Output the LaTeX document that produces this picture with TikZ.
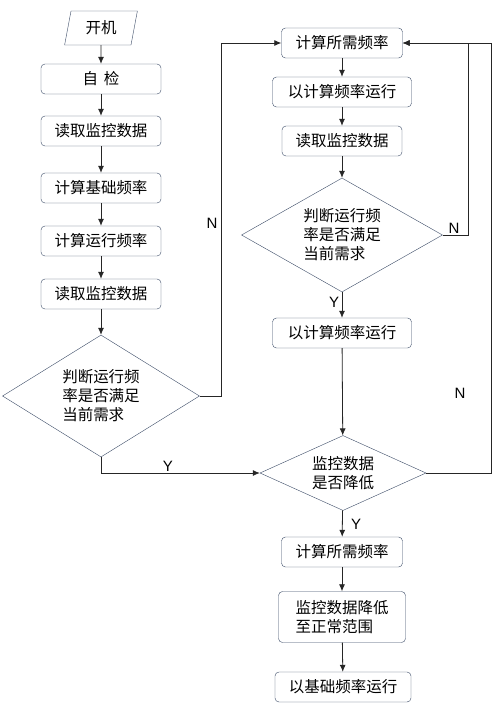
\documentclass[tikz,border=0pt]{standalone}
\usepackage{fontspec}
\setmainfont{Noto Sans CJK SC}
\newfontfamily\latinfont{Liberation Sans}
\usepackage{tikz}
\usetikzlibrary{shapes.geometric, arrows.meta}
\definecolor{boxline}{HTML}{3B4A66}
\tikzset{
  stepbox/.style={draw=boxline, fill=white, rounded corners=4pt, minimum height=30pt, inner sep=0pt, font=\fontsize{15.5}{19}\selectfont},
  decide/.style={draw=boxline, fill=white, shape=diamond, aspect=1.6, inner sep=0pt, align=left, font=\fontsize{15.5}{19}\selectfont},
  startbox/.style={draw=boxline, fill=white, trapezium, trapezium left angle=77, trapezium right angle=103, trapezium stretches=true, minimum width=73pt, minimum height=34pt, inner sep=0pt, font=\fontsize{15.5}{19}\selectfont},
  arr/.style={draw=black!85, thick, -{Latex[length=7pt,width=6pt]}},
  yn/.style={font=\latinfont\fontsize{15}{17}\selectfont}
}
\begin{document}
\begin{tikzpicture}[x=1pt, y=-1pt]
  \useasboundingbox[fill=white] (0,0) rectangle (497,705);

  \node[startbox] (start) at (101,28) {开机};
  \node[stepbox, minimum width=120pt] (selftest) at (101,79) {自\hspace{6pt}检};
  \node[stepbox, minimum width=120pt] (readA) at (101,131) {读取监控数据};
  \node[stepbox, minimum width=120pt] (baseA) at (101,188) {计算基础频率};
  \node[stepbox, minimum width=120pt] (runA) at (101,241) {计算运行频率};
  \node[stepbox, minimum width=120pt] (readB) at (101,294) {读取监控数据};
  \node[decide, minimum width=197pt, minimum height=122pt] (checkA) at (101,396) {判断运行频\\率是否满足\\当前需求};

  \node[stepbox, minimum width=121pt] (needA) at (342,43) {计算所需频率};
  \node[stepbox, minimum width=139pt] (runB) at (342,92) {以计算频率运行};
  \node[stepbox, minimum width=120pt] (readC) at (342,141) {读取监控数据};
  \node[decide, minimum width=201pt, minimum height=114pt] (checkB) at (342,235) {判断运行频\\率是否满足\\当前需求};
  \node[stepbox, minimum width=139pt] (runC) at (342,333) {以计算频率运行};
  \node[decide, minimum width=166pt, minimum height=75pt] (drop) at (343,473) {监控数据\\是否降低};
  \node[stepbox, minimum width=121pt] (needB) at (342,552) {计算所需频率};
  \node[stepbox, minimum width=127pt, minimum height=51pt, align=left] (normal) at (342,617) {监控数据降低\\至正常范围};
  \node[stepbox, minimum width=136pt] (baseB) at (343,687) {以基础频率运行};

  \draw[arr] (start) -- (selftest);
  \draw[arr] (selftest) -- (readA);
  \draw[arr] (readA) -- (baseA);
  \draw[arr] (baseA) -- (runA);
  \draw[arr] (runA) -- (readB);
  \draw[arr] (readB) -- (checkA);
  \draw[arr] (checkA.east) -- ++(22,0) |- (needA.west);
  \draw[arr] (checkA.south) |- (drop.west);
  \draw[arr] (needA) -- (runB);
  \draw[arr] (runB) -- (readC);
  \draw[arr] (readC) -- (checkB);
  \draw[arr] (checkB) -- (runC);
  \draw[arr] (checkB.east) -- ++(26,0) |- (needA.east);
  \draw[arr] (runC) -- (drop);
  \draw[arr] (drop.east) -- ++(65,0) |- (needA.east);
  \draw[arr] (drop) -- (needB);
  \draw[arr] (needB) -- (normal);
  \draw[arr] (normal) -- (baseB);

  \node[yn] (nA) at (212,223) {N};
  \node[yn] (yA) at (168,466) {Y};
  \node[yn] (nB) at (454,228) {N};
  \node[yn] (yB) at (334,302) {Y};
  \node[yn] (nC) at (460,393) {N};
  \node[yn] (yC) at (356,524) {Y};
\end{tikzpicture}
\end{document}
